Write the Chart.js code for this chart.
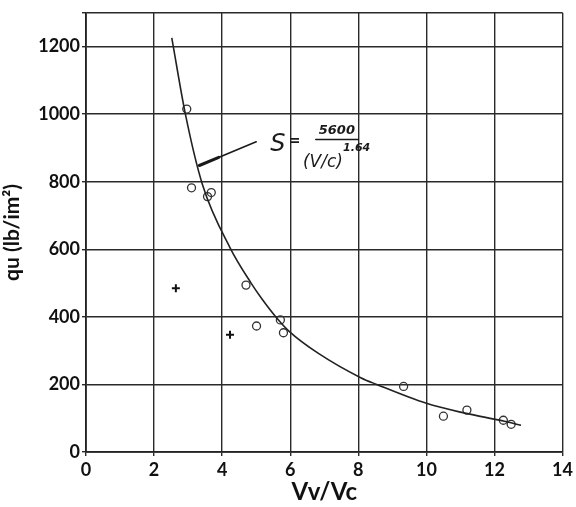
<!DOCTYPE html>
<html>
<head>
    <title>qu vs Vv/Vc</title>
    <script src="https://cdn.jsdelivr.net/npm/chart.js"></script>
    <style>
        body { margin: 0; background: #fff; }
        #wrap { width: 576px; height: 507px; }
    </style>
</head>
<body>
<div id="wrap"><canvas id="quChart" width="576" height="507"></canvas></div>
<script>
    // fitted curve S = 5600 / (V/c)^1.64
    const curveX = [2.52, 2.92, 3.42, 4.24, 4.85, 5.17, 5.61, 5.96, 6.84, 8.07, 8.54, 10.0, 11.13, 12.29, 12.78];
    const curveY = [1226, 1000, 792, 603, 500, 453, 396, 358, 291, 220, 200, 144, 115, 91, 79];

    // open circles
    const circleX = [2.96, 3.1, 3.57, 3.68, 4.7, 5.01, 5.71, 5.8, 9.33, 10.5, 11.19, 12.26, 12.49];
    const circleY = [1015, 782, 756, 768, 494, 373, 391, 353, 194, 106, 124, 94, 82];

    // plus marks
    const plusX = [2.64, 4.23];
    const plusY = [485, 347];

    const xTicks = [0, 2, 4, 6, 8, 10, 12, 14];
    const yTicks = [0, 200, 400, 600, 800, 1000, 1200];

    function toPoints(xs, ys) {
        return xs.map((x, i) => ({ x: x, y: ys[i] }));
    }

    const ink = '#222';
    const labelFont = 'Lato, "Liberation Sans", Arial, sans-serif';

    // handwritten formula with its pointer line
    const formulaNote = {
        id: 'formulaNote',
        afterDatasetsDraw(chart) {
            const xs = chart.scales.x;
            const ys = chart.scales.y;
            const px = v => xs.getPixelForValue(v);
            const py = v => ys.getPixelForValue(v);
            const ctx = chart.ctx;
            ctx.save();
            ctx.strokeStyle = '#1a1a1a';
            ctx.lineCap = 'round';

            // pointer from text to curve
            ctx.lineWidth = 1.6;
            ctx.beginPath();
            ctx.moveTo(px(5.0), py(918));
            ctx.lineTo(px(3.33), py(848));
            ctx.stroke();
            ctx.lineWidth = 3;
            ctx.beginPath();
            ctx.moveTo(px(3.9), py(872));
            ctx.lineTo(px(3.33), py(848));
            ctx.stroke();

            ctx.fillStyle = '#1a1a1a';
            ctx.textAlign = 'center';
            ctx.textBaseline = 'middle';
            ctx.font = 'italic 24px "DejaVu Sans", sans-serif';
            ctx.fillText('S', px(5.64), py(908));
            ctx.font = 'bold 14px "DejaVu Sans", sans-serif';
            ctx.fillText('=', px(6.13), py(918));

            ctx.font = 'italic bold 13px "DejaVu Sans", sans-serif';
            ctx.fillText('5600', px(7.37), py(950));
            ctx.lineWidth = 1.5;
            ctx.beginPath();
            ctx.moveTo(px(6.75), py(925));
            ctx.lineTo(px(8.0), py(925));
            ctx.stroke();

            ctx.font = 'italic 17px "DejaVu Sans", sans-serif';
            ctx.fillText('(V/c)', px(6.96), py(856));
            ctx.font = 'italic bold 11px "DejaVu Sans", sans-serif';
            ctx.fillText('1.64', px(7.95), py(900));
            ctx.restore();
        }
    };

    function createChart(ctx) {
        new Chart(ctx, {
            type: 'scatter',
            data: {
                datasets: [
                    {
                        label: 'S = 5600/(V/c)^1.64',
                        type: 'line',
                        data: toPoints(curveX, curveY),
                        borderColor: ink,
                        borderWidth: 1.6,
                        pointRadius: 0,
                        fill: false,
                        cubicInterpolationMode: 'monotone'
                    },
                    {
                        label: 'test',
                        data: toPoints(circleX, circleY),
                        pointStyle: 'circle',
                        pointRadius: 4,
                        borderColor: '#333',
                        borderWidth: 1.3,
                        backgroundColor: 'rgba(255,255,255,0)'
                    },
                    {
                        label: 'other',
                        data: toPoints(plusX, plusY),
                        pointStyle: 'cross',
                        pointRadius: 4,
                        borderColor: '#111',
                        borderWidth: 2
                    }
                ]
            },
            options: {
                responsive: false,
                animation: false,
                layout: { padding: { top: 9, right: 11, left: 0, bottom: 0 } },
                plugins: {
                    legend: { display: false },
                    tooltip: { enabled: false }
                },
                scales: {
                    x: {
                        type: 'linear',
                        min: 0,
                        max: 14,
                        afterBuildTicks: s => { s.ticks = xTicks.map(v => ({ value: v })); },
                        afterFit: s => { s.height = 55; },
                        ticks: {
                            color: '#111',
                            padding: 3,
                            font: { family: labelFont, size: 18, weight: 'bold' }
                        },
                        grid: { color: '#2a2a2a', lineWidth: 1.4, tickLength: 4 },
                        border: { color: '#222', width: 1.8 },
                        title: {
                            display: true,
                            text: 'Vv/Vc',
                            color: '#111',
                            padding: { top: 0, bottom: 0 },
                            font: { family: labelFont, size: 24, weight: 'bold' }
                        }
                    },
                    y: {
                        type: 'linear',
                        min: 0,
                        max: 1300,
                        afterBuildTicks: s => { s.ticks = yTicks.concat([1300]).map(v => ({ value: v })); },
                        afterFit: s => { s.width = 86; },
                        ticks: {
                            color: '#111',
                            padding: 2,
                            font: { family: labelFont, size: 18, weight: 'bold' },
                            callback: v => (v === 1300 ? '' : v)
                        },
                        grid: { color: '#2a2a2a', lineWidth: 1.4, tickLength: 4 },
                        border: { color: '#222', width: 1.8 },
                        title: {
                            display: true,
                            text: 'qu (lb/im²)',
                            color: '#111',
                            padding: { top: 0, bottom: 2 },
                            font: { family: labelFont, size: 21, weight: 'bold' }
                        }
                    }
                }
            },
            plugins: [formulaNote]
        });
    }

    createChart(document.getElementById('quChart').getContext('2d'));
</script>
</body>
</html>
